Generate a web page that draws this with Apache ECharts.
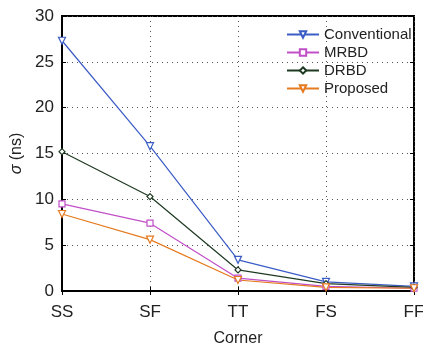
<!DOCTYPE html>
<html><head><meta charset="utf-8">
<script src="https://cdn.jsdelivr.net/npm/echarts@6/dist/echarts.min.js"></script>
<style>html,body{margin:0;padding:0;background:#fff}#c{width:423px;height:345px}</style>
</head><body><div id="c"></div>
<script>
const categories = ['SS','SF','TT','FS','FF'];
const conventional = [27.3, 15.8, 3.4, 1.0, 0.5];
const mrbd = [9.5, 7.4, 1.4, 0.5, 0.3];
const drbd = [15.2, 10.3, 2.3, 0.8, 0.4];
const proposed = [8.4, 5.6, 1.2, 0.4, 0.3];
const yTicks = [0,5,10,15,20,25,30];

const font = 'Liberation Sans, Arial, sans-serif';
const chart = echarts.init(document.getElementById('c'));
function s(name, data, color, symbol, rot, size) {
  return {name, type:'line', data, symbol, symbolRotate: rot, symbolSize: size,
    showAllSymbol:true,
    lineStyle:{color, width:1.2}, itemStyle:{color:'#fff', borderColor:color, borderWidth:1.2},
    emphasis:{disabled:true}};
}
chart.setOption({
  animation:false,
  grid:{left:62, right:9, top:16, bottom:54, show:true, borderColor:'#000', borderWidth:2,
    outerBoundsMode:'none', containLabel:false},
  legend:{left:281, top:22, orient:'vertical', itemGap:3, itemWidth:32, itemHeight:8,
    textStyle:{fontFamily:font, fontSize:15, color:'#222'},
    data:['Conventional','MRBD','DRBD','Proposed']},
  xAxis:[{type:'category', data:categories, boundaryGap:false,
    name:'Corner', nameLocation:'middle', nameGap:40,
    nameTextStyle:{fontFamily:font, fontSize:16, color:'#222'},
    axisLine:{lineStyle:{color:'#000', width:2}},
    axisTick:{show:true, inside:true, length:4, lineStyle:{color:'#000'}},
    axisLabel:{fontFamily:font, fontSize:17, color:'#222', margin:13},
    splitLine:{show:true, lineStyle:{color:'#555', type:[1,4], width:1}}},
    {type:'category', data:categories, boundaryGap:false, position:'top',
    axisLine:{show:false}, axisTick:{show:true, inside:true, length:4, lineStyle:{color:'#000'}},
    axisLabel:{show:false}}],
  yAxis:[{type:'value', min:yTicks[0], max:yTicks[yTicks.length-1], interval:5,
    name:'{i|σ} (ns)', nameLocation:'middle', nameGap:37, nameRotate:90,
    nameTextStyle:{fontFamily:font, fontSize:16, color:'#222',
      rich:{i:{fontFamily:font, fontSize:16, fontStyle:'italic', color:'#222'}}},
    axisLine:{show:true, lineStyle:{color:'#000', width:2}},
    axisTick:{show:true, inside:true, length:4, lineStyle:{color:'#000'}},
    axisLabel:{fontFamily:font, fontSize:17, color:'#222', margin:8},
    splitLine:{show:true, lineStyle:{color:'#555', type:[1,4], width:1}}},
    {type:'value', min:yTicks[0], max:yTicks[yTicks.length-1], interval:5, position:'right',
    axisLine:{show:false}, axisTick:{show:true, inside:true, length:4, lineStyle:{color:'#000'}},
    axisLabel:{show:false}, splitLine:{show:false}}],
  series:[
    s('Conventional', conventional, '#3a5cc4', 'triangle', 180, 7),
    s('MRBD', mrbd, '#c04fc8', 'rect', 0, 6),
    s('DRBD', drbd, '#1e3a22', 'diamond', 0, 6),
    s('Proposed', proposed, '#e57a1e', 'triangle', 180, 7)
  ]
});
</script></body></html>
